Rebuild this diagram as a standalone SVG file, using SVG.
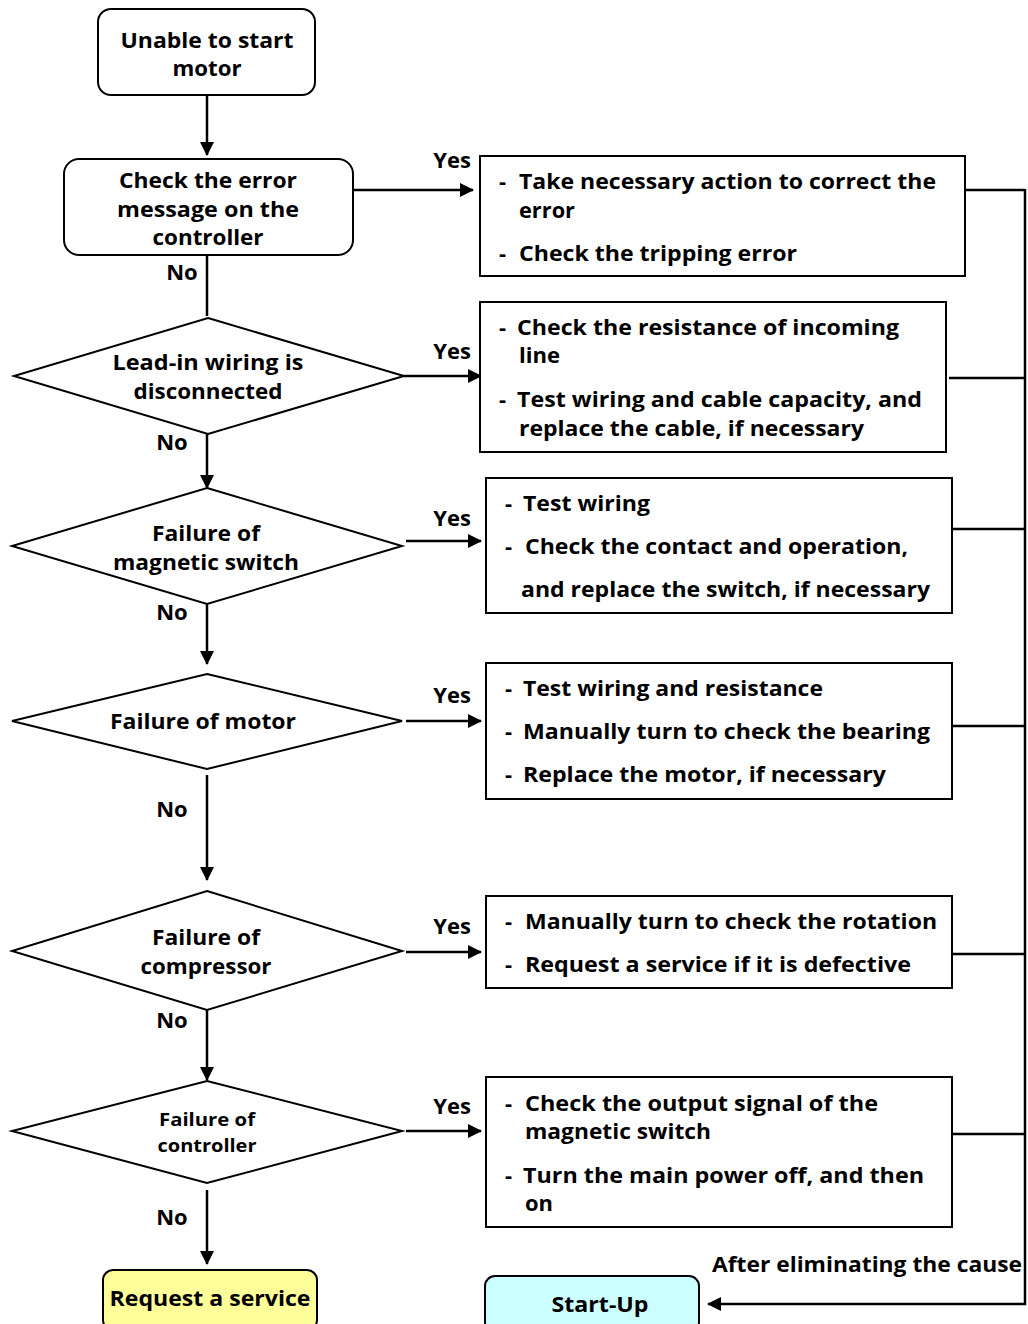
<svg xmlns="http://www.w3.org/2000/svg" width="1028" height="1324" viewBox="0 0 1028 1324">
<style>
text{font-family:"Open Sans","Noto Sans CJK KR","Liberation Sans",sans-serif;font-weight:bold;font-size:22px;fill:#000}
.c{text-anchor:middle}
.box{fill:#fff;stroke:#000;stroke-width:2}
.ln{stroke:#000;stroke-width:2.5;fill:none}
.sm{font-size:18px}
</style>
<defs>
<marker id="ahs" markerWidth="14" markerHeight="14" refX="13" refY="7" orient="auto" markerUnits="userSpaceOnUse" viewBox="0 0 14 14">
<path d="M0,0 L14,7 L0,14 z" fill="#000"/>
</marker>
</defs>
<rect width="1028" height="1324" fill="#fff"/>

<g id="connectors">
<line class="ln" x1="207" y1="95" x2="207" y2="155" marker-end="url(#ahs)"/>
<line class="ln" x1="353" y1="190" x2="473" y2="190" marker-end="url(#ahs)"/>
<line class="ln" x1="207" y1="255" x2="207" y2="316"/>
<line class="ln" x1="404" y1="376" x2="481" y2="376" marker-end="url(#ahs)"/>
<line class="ln" x1="207" y1="434" x2="207" y2="488" marker-end="url(#ahs)"/>
<line class="ln" x1="406" y1="541" x2="481" y2="541" marker-end="url(#ahs)"/>
<line class="ln" x1="207" y1="604" x2="207" y2="664" marker-end="url(#ahs)"/>
<line class="ln" x1="406" y1="721" x2="481" y2="721" marker-end="url(#ahs)"/>
<line class="ln" x1="207" y1="775" x2="207" y2="880" marker-end="url(#ahs)"/>
<line class="ln" x1="406" y1="952" x2="481" y2="952" marker-end="url(#ahs)"/>
<line class="ln" x1="207" y1="1010" x2="207" y2="1080" marker-end="url(#ahs)"/>
<line class="ln" x1="406" y1="1131" x2="481" y2="1131" marker-end="url(#ahs)"/>
<line class="ln" x1="207" y1="1190" x2="207" y2="1264" marker-end="url(#ahs)"/>
<line class="ln" x1="960" y1="190" x2="1025" y2="190"/>
<line class="ln" x1="949" y1="378" x2="1025" y2="378"/>
<line class="ln" x1="950" y1="529" x2="1025" y2="529"/>
<line class="ln" x1="950" y1="726" x2="1025" y2="726"/>
<line class="ln" x1="950" y1="954" x2="1025" y2="954"/>
<line class="ln" x1="950" y1="1134" x2="1025" y2="1134"/>
<polyline class="ln" points="1025,189 1025,1304 708,1304" marker-end="url(#ahs)"/>
<text class="c" x="452" y="168">Yes</text>
<text class="c" x="452" y="359">Yes</text>
<text class="c" x="452" y="526">Yes</text>
<text class="c" x="452" y="703">Yes</text>
<text class="c" x="452" y="934">Yes</text>
<text class="c" x="452" y="1114">Yes</text>
<text class="c" x="182" y="280">No</text>
<text class="c" x="172" y="450">No</text>
<text class="c" x="172" y="620">No</text>
<text class="c" x="172" y="817">No</text>
<text class="c" x="172" y="1028">No</text>
<text class="c" x="172" y="1225">No</text>
<text x="712" y="1272" textLength="310" lengthAdjust="spacingAndGlyphs">After eliminating the cause</text>
</g>

<g id="start">
<rect class="box" x="98" y="9" width="217" height="86" rx="13"/>
<text class="c" x="207" y="48" textLength="173" lengthAdjust="spacingAndGlyphs">Unable to start</text>
<text class="c" x="207" y="76" textLength="69" lengthAdjust="spacingAndGlyphs">motor</text>
</g>

<g id="check-error">
<rect class="box" x="64" y="159" width="289" height="96" rx="15"/>
<text class="c" x="208" y="188" textLength="178" lengthAdjust="spacingAndGlyphs">Check the error</text>
<text class="c" x="208" y="217" textLength="182" lengthAdjust="spacingAndGlyphs">message on the</text>
<text class="c" x="208" y="245" textLength="111" lengthAdjust="spacingAndGlyphs">controller</text>
</g>

<g id="action-error">
<rect class="box" x="480" y="156" width="485" height="120"/>
<text x="499" y="189">-</text>
<text x="519" y="189" textLength="417" lengthAdjust="spacingAndGlyphs">Take necessary action to correct the</text>
<text x="519" y="218" textLength="56" lengthAdjust="spacingAndGlyphs">error</text>
<text x="499" y="261">-</text>
<text x="519" y="261" textLength="278" lengthAdjust="spacingAndGlyphs">Check the tripping error</text>
</g>

<g id="lead-in">
<polygon class="box" points="208,318 404,376 208,434 14,376"/>
<text class="c" x="208" y="370" textLength="191" lengthAdjust="spacingAndGlyphs">Lead-in wiring is</text>
<text class="c" x="208" y="399" textLength="149" lengthAdjust="spacingAndGlyphs">disconnected</text>
</g>

<g id="action-lead-in">
<rect class="box" x="480" y="302" width="466" height="150"/>
<text x="499" y="335">-</text>
<text x="517" y="335" textLength="382" lengthAdjust="spacingAndGlyphs">Check the resistance of incoming</text>
<text x="519" y="363" textLength="41" lengthAdjust="spacingAndGlyphs">line</text>
<text x="499" y="407">-</text>
<text x="517" y="407" textLength="405" lengthAdjust="spacingAndGlyphs">Test wiring and cable capacity, and</text>
<text x="519" y="436" textLength="345" lengthAdjust="spacingAndGlyphs">replace the cable, if necessary</text>
</g>

<g id="magnetic-switch">
<polygon class="box" points="207,488 402,546 207,604 12,546"/>
<text class="c" x="206" y="541" textLength="108" lengthAdjust="spacingAndGlyphs">Failure of</text>
<text class="c" x="206" y="570" textLength="186" lengthAdjust="spacingAndGlyphs">magnetic switch</text>
</g>

<g id="action-switch">
<rect class="box" x="486" y="478" width="466" height="135"/>
<text x="505" y="511">-</text>
<text x="523" y="511" textLength="127" lengthAdjust="spacingAndGlyphs">Test wiring</text>
<text x="505" y="554">-</text>
<text x="525" y="554" textLength="383" lengthAdjust="spacingAndGlyphs">Check the contact and operation,</text>
<text x="521" y="597" textLength="409" lengthAdjust="spacingAndGlyphs">and replace the switch, if necessary</text>
</g>

<g id="motor">
<polygon class="box" points="207,674 402,721 207,769 12,721"/>
<text class="c" x="203" y="729" textLength="186" lengthAdjust="spacingAndGlyphs">Failure of motor</text>
</g>

<g id="action-motor">
<rect class="box" x="486" y="663" width="466" height="136"/>
<text x="505" y="696">-</text>
<text x="523" y="696" textLength="300" lengthAdjust="spacingAndGlyphs">Test wiring and resistance</text>
<text x="505" y="739">-</text>
<text x="523" y="739" textLength="407" lengthAdjust="spacingAndGlyphs">Manually turn to check the bearing</text>
<text x="505" y="782">-</text>
<text x="523" y="782" textLength="363" lengthAdjust="spacingAndGlyphs">Replace the motor, if necessary</text>
</g>

<g id="compressor">
<polygon class="box" points="207,891 402,951 207,1010 12,951"/>
<text class="c" x="206" y="945" textLength="108" lengthAdjust="spacingAndGlyphs">Failure of</text>
<text class="c" x="206" y="974" textLength="131" lengthAdjust="spacingAndGlyphs">compressor</text>
</g>

<g id="action-compressor">
<rect class="box" x="486" y="896" width="466" height="92"/>
<text x="505" y="929">-</text>
<text x="525" y="929" textLength="412" lengthAdjust="spacingAndGlyphs">Manually turn to check the rotation</text>
<text x="505" y="972">-</text>
<text x="525" y="972" textLength="386" lengthAdjust="spacingAndGlyphs">Request a service if it is defective</text>
</g>

<g id="controller">
<polygon class="box" points="207,1081 402,1131 207,1183 12,1131"/>
<text class="c sm" x="207" y="1126" textLength="96" lengthAdjust="spacingAndGlyphs">Failure of</text>
<text class="c sm" x="207" y="1152" textLength="99" lengthAdjust="spacingAndGlyphs">controller</text>
</g>

<g id="action-controller">
<rect class="box" x="486" y="1077" width="466" height="150"/>
<text x="505" y="1111">-</text>
<text x="525" y="1111" textLength="353" lengthAdjust="spacingAndGlyphs">Check the output signal of the</text>
<text x="525" y="1139" textLength="186" lengthAdjust="spacingAndGlyphs">magnetic switch</text>
<text x="505" y="1183">-</text>
<text x="523" y="1183" textLength="401" lengthAdjust="spacingAndGlyphs">Turn the main power off, and then</text>
<text x="525" y="1211" textLength="28" lengthAdjust="spacingAndGlyphs">on</text>
</g>

<g id="request-service">
<rect x="103" y="1270" width="214" height="60" rx="10" fill="#ffff99" stroke="#000" stroke-width="2"/>
<text class="c" x="210" y="1306" textLength="201" lengthAdjust="spacingAndGlyphs">Request a service</text>
</g>

<g id="start-up">
<rect x="485" y="1276" width="214" height="56" rx="10" fill="#ccffff" stroke="#000" stroke-width="2"/>
<text class="c" x="600" y="1312" textLength="97" lengthAdjust="spacingAndGlyphs">Start-Up</text>
</g>
</svg>
